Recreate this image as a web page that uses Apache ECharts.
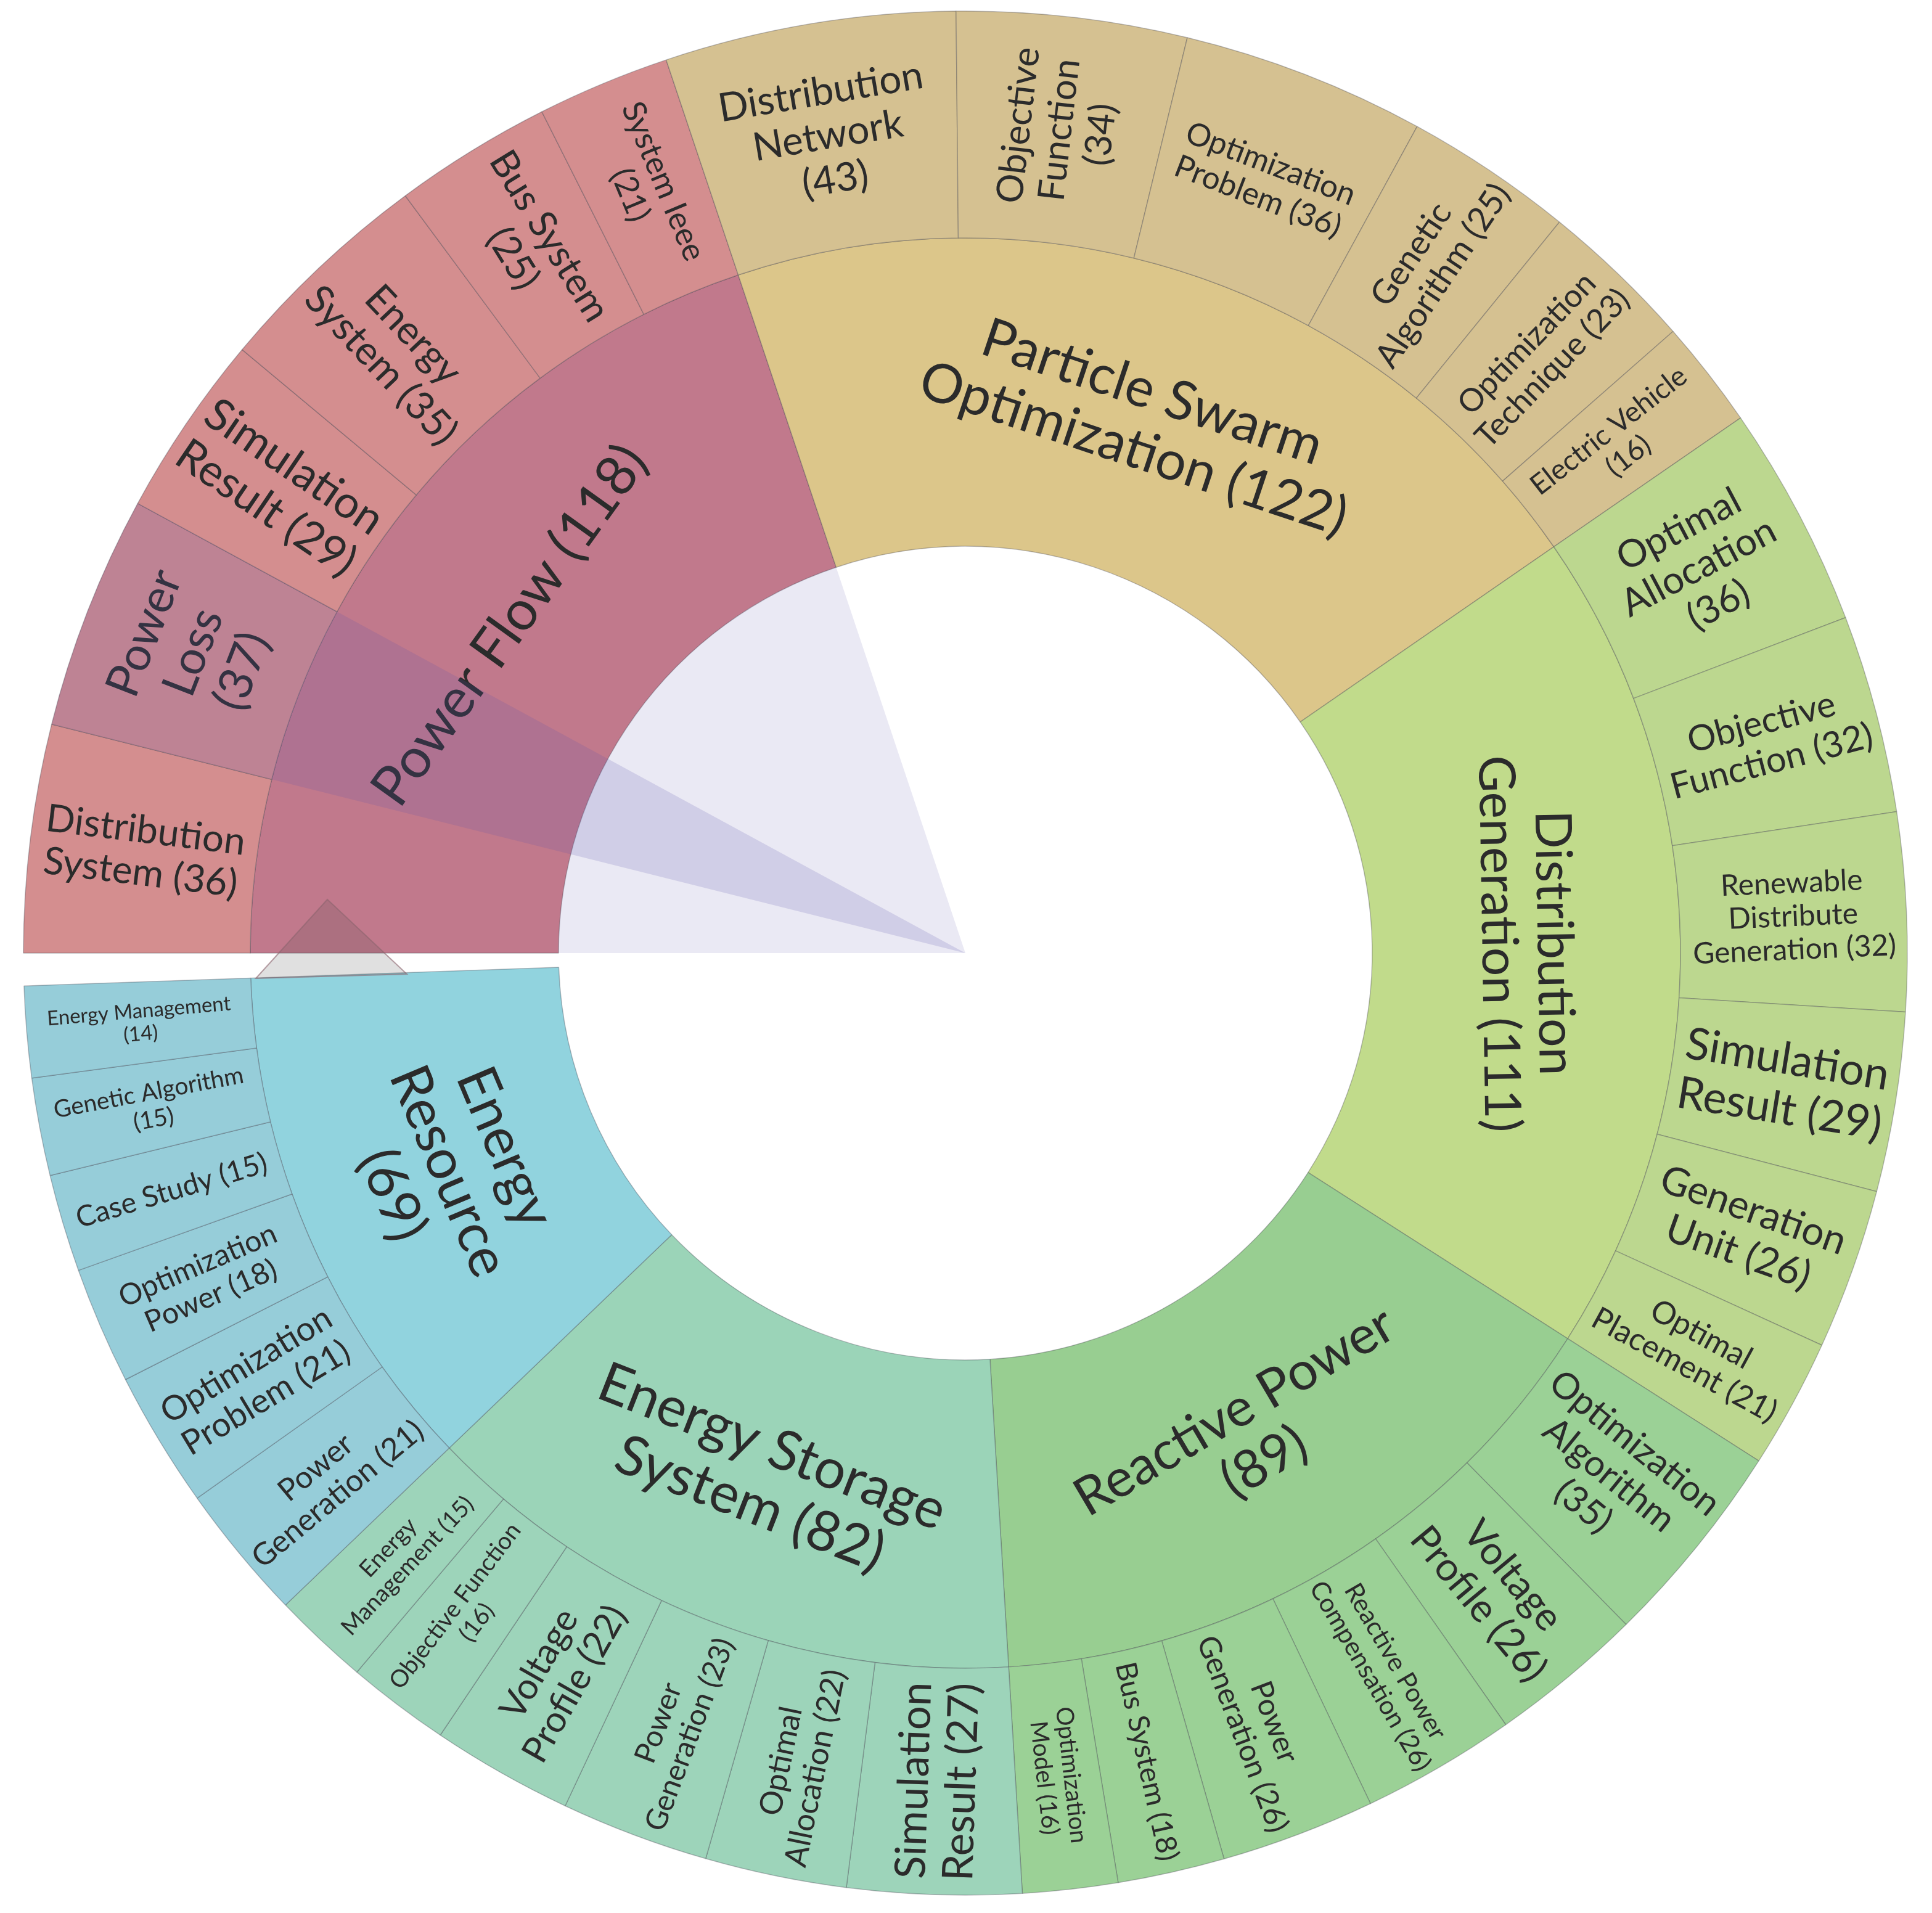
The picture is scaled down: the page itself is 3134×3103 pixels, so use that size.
<!DOCTYPE html>
<html>
<head>
<meta charset="utf-8">
<title>Topics sunburst</title>
<script src="https://cdn.jsdelivr.net/npm/echarts@6/dist/echarts.min.js"></script>
<style>
html, body { margin: 0; padding: 0; background: #fff; }
#main { width: 3134px; height: 3103px; }
</style>
</head>
<body>
<div id="main"></div>
<script>
// inner ring, clockwise from 9 o'clock
// (a trailing \n puts the count on a line of its own)
var topics = ['Power Flow', 'Particle Swarm\nOptimization', 'Distribution\nGeneration',
  'Reactive Power\n', 'Energy Storage\nSystem', 'Energy\nResource\n'];
var topicCounts = [118, 122, 111, 89, 82, 69];

// outer ring, keywords of each topic in the same order
var keywords = [
  ['Distribution\nSystem', 'Power\nLoss\n', 'Simulation\nResult', 'Energy\nSystem', 'Bus System\n', 'System Ieee\n'],
  ['Distribution\nNetwork\n', 'Objective\nFunction\n', 'Optimization\nProblem', 'Genetic\nAlgorithm', 'Optimization\nTechnique', 'Electric Vehicle\n'],
  ['Optimal\nAllocation\n', 'Objective\nFunction', 'Renewable\nDistribute\nGeneration', 'Simulation\nResult', 'Generation\nUnit', 'Optimal\nPlacement'],
  ['Optimization\nAlgorithm\n', 'Voltage\nProfile', 'Reactive Power\nCompensation', 'Power\nGeneration', 'Bus System', 'Optimization\nModel'],
  ['Simulation\nResult', 'Optimal\nAllocation', 'Power\nGeneration', 'Voltage\nProfile', 'Objective Function\n', 'Energy\nManagement'],
  ['Power\nGeneration', 'Optimization\nProblem', 'Optimization\nPower', 'Case Study', 'Genetic Algorithm\n', 'Energy Management\n']
];
var keywordCounts = [
  [36, 37, 29, 35, 25, 21],
  [43, 34, 36, 25, 23, 16],
  [36, 32, 32, 29, 26, 21],
  [35, 26, 26, 26, 18, 16],
  [27, 22, 23, 22, 16, 15],
  [21, 21, 18, 15, 15, 14]
];

// the original leaves a small empty wedge just below 9 o'clock
var GAP = 3.3;

// ---- look ----
var CX = 1566, CY = 1546, R0 = 660, R1 = 1160, R2 = 1528;
var innerColors = ['#c1798c', '#dcc68a', '#c1db8b', '#98ce91', '#9bd4b8', '#91d3de'];
var outerColors = ['#d48e8f', '#d5c191', '#bcd78f', '#9bd196', '#9dd4ba', '#96cdd9'];
var innerFont = [90, 88, 82, 86, 90, 90];
var outerFont = [
  [62, 76, 72, 64, 62, 52],
  [64, 60, 51, 55, 52, 46],
  [62, 58, 48, 72, 64, 51],
  [59, 64, 42, 49, 47, 39],
  [69, 51, 48, 59, 39, 38],
  [50, 55, 48, 47, 39, 33]
];
var tangential = ['0-1', '1-0', '1-2'];
var hovered = [0, 1]; // Power Flow / Power Loss is highlighted in the original

function label(name, count) {
  return name + (name.slice(-1) === '\n' ? '' : ' ') + '(' + count + ')';
}

var data = [], haloData = [], bandData = [];
topics.forEach(function (t, i) {
  var sum = keywordCounts[i].reduce(function (a, b) { return a + b; }, 0);
  var children = keywords[i].map(function (k, j) {
    // keywords split their topic's angle in proportion to their counts
    var v = keywordCounts[i][j] * topicCounts[i] / sum;
    bandData.push({
      value: v,
      itemStyle: { color: (i === hovered[0] && j === hovered[1]) ? 'rgba(92,84,172,0.18)' : 'transparent' }
    });
    return {
      name: label(k, keywordCounts[i][j]),
      value: v,
      itemStyle: { color: outerColors[i] },
      label: {
        fontSize: outerFont[i][j],
        lineHeight: Math.round(outerFont[i][j] * 1.12),
        rotate: tangential.indexOf(i + '-' + j) >= 0 ? 'tangential' : 'radial'
      }
    };
  });
  data.push({
    name: label(t, topicCounts[i]),
    value: topicCounts[i],
    itemStyle: { color: innerColors[i] },
    label: { fontSize: innerFont[i], lineHeight: Math.round(innerFont[i] * 1.1) },
    children: children
  });
  haloData.push({
    value: topicCounts[i],
    itemStyle: { color: i === hovered[0] ? 'rgba(92,84,172,0.13)' : 'transparent' }
  });
});
data.push({ name: '', value: GAP, itemStyle: { color: 'transparent', borderWidth: 0 }, label: { show: false } });
haloData.push({ value: GAP, itemStyle: { color: 'transparent' } });
bandData.push({ value: GAP, itemStyle: { color: 'transparent' } });

var myChart = echarts.init(document.getElementById('main'));

var overlay = {
  type: 'pie',
  center: [CX, CY],
  startAngle: 180,
  clockwise: true,
  silent: true,
  z: 5,
  label: { show: false },
  labelLine: { show: false },
  itemStyle: { borderWidth: 0 },
  emphasis: { disabled: true }
};

option = {
  animation: false,
  backgroundColor: '#ffffff',
  series: [
    {
      type: 'sunburst',
      center: [CX, CY],
      startAngle: 180,
      clockwise: true,
      sort: null,
      silent: true,
      nodeClick: false,
      data: data,
      itemStyle: { borderColor: 'rgba(70,70,80,0.35)', borderWidth: 1.5 },
      label: { color: '#2b2b2b', fontFamily: 'Lato' },
      levels: [
        {},
        { r0: R0, r: R1, label: { rotate: 'tangential' } },
        { r0: R1, r: R2, label: { rotate: 'radial' } }
      ]
    },
    Object.assign({}, overlay, { radius: [0, R0], data: haloData }),
    Object.assign({}, overlay, { radius: [0, R2], data: bandData })
  ],
  // pointer of the tooltip left in the original screenshot
  graphic: [{
    type: 'polygon',
    z: 10,
    shape: { points: [[CX - 1151, CY + 41], [CX - 1035, CY - 87], [CX - 906, CY + 34]] },
    style: { fill: 'rgba(70,70,70,0.17)', stroke: 'rgba(140,100,110,0.6)', lineWidth: 2 }
  }]
};

myChart.setOption(option);
</script>
</body>
</html>
